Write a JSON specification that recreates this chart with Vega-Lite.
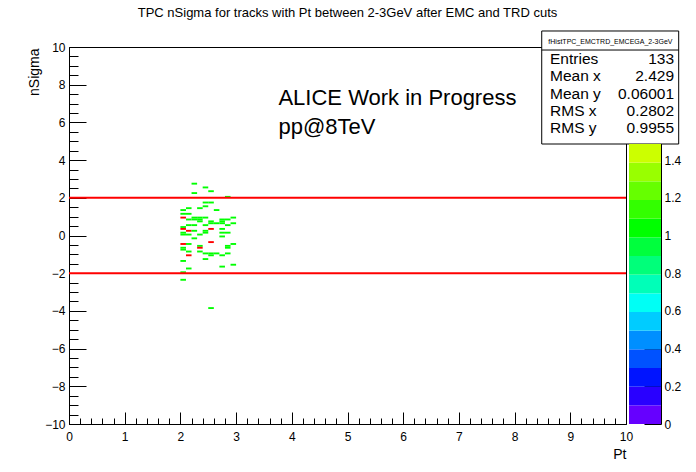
{
  "$schema": "https://vega.github.io/schema/vega-lite/v6.json",
  "width": 557,
  "height": 377,
  "autosize": {"type": "none"},
  "padding": {"left": 69, "top": 47, "right": 70, "bottom": 48},
  "background": "white",
  "title": {
    "text": "TPC nSigma for tracks with Pt between 2-3GeV after EMC and TRD cuts",
    "font": "Liberation Sans",
    "fontSize": 13,
    "fontWeight": "normal",
    "color": "black",
    "anchor": "middle",
    "frame": "group",
    "baseline": "alphabetic",
    "offset": 0
  },
  "config": {
    "font": "Liberation Sans",
    "view": {"stroke": "black", "strokeWidth": 1},
    "axis": {
      "labelFont": "Liberation Sans",
      "labelFontSize": 12,
      "labelColor": "black",
      "tickColor": "black",
      "tickWidth": 1,
      "domainColor": "black",
      "grid": false,
      "titleFont": "Liberation Sans",
      "titleColor": "black",
      "titleFontWeight": "normal",
      "titleFontSize": 14
    },
    "text": {"font": "Liberation Sans", "color": "black"}
  },
  "data": {
    "values": [
      {"pt": 2.25, "ns": 2.75, "n": 1}, {"pt": 2.45, "ns": 2.55, "n": 1}, {"pt": 2.55, "ns": 2.35, "n": 1},
      {"pt": 2.25, "ns": 2.25, "n": 1}, {"pt": 2.85, "ns": 2.05, "n": 1},
      {"pt": 2.45, "ns": 1.75, "n": 1}, {"pt": 2.55, "ns": 1.75, "n": 1}, {"pt": 2.45, "ns": 1.55, "n": 1},
      {"pt": 2.15, "ns": 1.45, "n": 1}, {"pt": 2.35, "ns": 1.45, "n": 1},
      {"pt": 2.05, "ns": 1.35, "n": 1}, {"pt": 2.65, "ns": 1.35, "n": 1},
      {"pt": 2.05, "ns": 1.15, "n": 1}, {"pt": 2.15, "ns": 1.15, "n": 1},
      {"pt": 2.05, "ns": 0.95, "n": 2}, {"pt": 2.25, "ns": 0.95, "n": 1}, {"pt": 2.35, "ns": 0.95, "n": 1},
      {"pt": 2.45, "ns": 0.95, "n": 1}, {"pt": 2.95, "ns": 0.95, "n": 1},
      {"pt": 2.15, "ns": 0.85, "n": 1}, {"pt": 2.25, "ns": 0.85, "n": 1}, {"pt": 2.35, "ns": 0.85, "n": 1},
      {"pt": 2.75, "ns": 0.85, "n": 1}, {"pt": 2.85, "ns": 0.85, "n": 1},
      {"pt": 2.35, "ns": 0.75, "n": 1}, {"pt": 2.55, "ns": 0.75, "n": 1}, {"pt": 2.75, "ns": 0.75, "n": 1},
      {"pt": 2.55, "ns": 0.65, "n": 1}, {"pt": 2.65, "ns": 0.65, "n": 1}, {"pt": 2.75, "ns": 0.65, "n": 1},
      {"pt": 2.95, "ns": 0.65, "n": 1},
      {"pt": 2.15, "ns": 0.55, "n": 1}, {"pt": 2.25, "ns": 0.55, "n": 1}, {"pt": 2.45, "ns": 0.55, "n": 1},
      {"pt": 2.85, "ns": 0.55, "n": 1},
      {"pt": 2.05, "ns": 0.45, "n": 1},
      {"pt": 2.05, "ns": 0.35, "n": 2}, {"pt": 2.55, "ns": 0.35, "n": 2}, {"pt": 2.75, "ns": 0.35, "n": 1},
      {"pt": 2.15, "ns": 0.25, "n": 2}, {"pt": 2.25, "ns": 0.25, "n": 1}, {"pt": 2.45, "ns": 0.25, "n": 1},
      {"pt": 2.05, "ns": 0.15, "n": 1}, {"pt": 2.45, "ns": 0.15, "n": 1}, {"pt": 2.75, "ns": 0.15, "n": 1},
      {"pt": 2.85, "ns": 0.15, "n": 1},
      {"pt": 2.05, "ns": 0.05, "n": 1}, {"pt": 2.15, "ns": 0.05, "n": 1}, {"pt": 2.35, "ns": 0.05, "n": 1},
      {"pt": 2.75, "ns": -0.05, "n": 1}, {"pt": 2.25, "ns": -0.15, "n": 1},
      {"pt": 2.55, "ns": -0.35, "n": 2},
      {"pt": 2.05, "ns": -0.45, "n": 2}, {"pt": 2.15, "ns": -0.45, "n": 1}, {"pt": 2.95, "ns": -0.45, "n": 1},
      {"pt": 2.35, "ns": -0.55, "n": 1}, {"pt": 2.85, "ns": -0.55, "n": 1},
      {"pt": 2.05, "ns": -0.65, "n": 1}, {"pt": 2.35, "ns": -0.65, "n": 2}, {"pt": 2.85, "ns": -0.65, "n": 1},
      {"pt": 2.05, "ns": -0.75, "n": 1},
      {"pt": 2.15, "ns": -0.85, "n": 1}, {"pt": 2.35, "ns": -0.85, "n": 1},
      {"pt": 2.45, "ns": -0.95, "n": 1}, {"pt": 2.55, "ns": -0.95, "n": 1}, {"pt": 2.65, "ns": -0.95, "n": 1},
      {"pt": 2.85, "ns": -0.95, "n": 1},
      {"pt": 2.15, "ns": -1.05, "n": 2}, {"pt": 2.55, "ns": -1.05, "n": 1}, {"pt": 2.75, "ns": -1.05, "n": 1},
      {"pt": 2.45, "ns": -1.25, "n": 1}, {"pt": 2.05, "ns": -1.35, "n": 1},
      {"pt": 2.95, "ns": -1.55, "n": 1}, {"pt": 2.75, "ns": -1.65, "n": 1}, {"pt": 2.15, "ns": -1.75, "n": 1},
      {"pt": 2.05, "ns": -1.95, "n": 1},
      {"pt": 2.05, "ns": -2.35, "n": 1}, {"pt": 2.55, "ns": -3.85, "n": 1}
    ]
  },
  "layer": [
    {
      "layer": [
        {
          "transform": [
            {"bin": {"extent": [0, 10], "step": 0.1}, "field": "pt", "as": ["pt0", "pt1"]},
            {"bin": {"extent": [-10, 10], "step": 0.1}, "field": "ns", "as": ["ns0", "ns1"]}
          ],
          "mark": {"type": "rect", "strokeWidth": 0},
          "encoding": {
            "x": {
              "field": "pt0", "type": "quantitative",
              "scale": {"domain": [0, 10], "nice": false, "zero": false},
              "axis": {
                "orient": "bottom",
                "values": [0, 1, 2, 3, 4, 5, 6, 7, 8, 9, 10],
                "format": "~r",
                "tickSize": -12,
                "labelPadding": 19,
                "labelFlush": false,
                "labelOverlap": false,
                "title": "Pt",
                "titleAnchor": "end",
                "titleAlign": "right",
                "titleBaseline": "alphabetic",
                "titleX": 557,
                "titleY": 34
              }
            },
            "x2": {"field": "pt1"},
            "y": {
              "field": "ns0", "type": "quantitative",
              "scale": {"domain": [-10, 10], "nice": false, "zero": false},
              "axis": {
                "orient": "left",
                "values": [-10, -8, -6, -4, -2, 0, 2, 4, 6, 8, 10],
                "format": "~r",
                "tickSize": -17,
                "labelPadding": 21,
                "labelFlush": false,
                "labelOverlap": false,
                "title": "nSigma",
                "titleAngle": 270,
                "titleAnchor": "end",
                "titleAlign": "right",
                "titleBaseline": "alphabetic",
                "titleX": -31,
                "titleY": 1
              }
            },
            "y2": {"field": "ns1"},
            "fill": {
              "field": "n", "type": "quantitative",
              "scale": {
                "type": "quantize", "domain": [0, 2], "nice": false,
                "range": ["#6600ff", "#2900ff", "#0014ff", "#0052ff", "#008fff", "#00ccff", "#00fff5", "#00ffb8", "#00ff7a", "#00ff3d",
                          "#00ff00", "#33ff00", "#66ff00", "#99ff00", "#ccff00", "#ffcc00", "#ff8f00", "#ff5200", "#ff1400", "#ff0000"]
              },
              "legend": null
            },
            "stroke": {
              "field": "n", "type": "quantitative",
              "scale": {
                "type": "quantize", "domain": [0, 1.5], "nice": false,
                "range": ["#6600ff", "#2900ff", "#0014ff", "#0052ff", "#008fff", "#00ccff", "#00fff5", "#00ffb8", "#00ff7a", "#00ff3d",
                          "#00ff00", "#33ff00", "#66ff00", "#99ff00", "#ccff00"]
              },
              "legend": {
                "type": "gradient",
                "orient": "none",
                "legendX": 560,
                "legendY": 97,
                "direction": "vertical",
                "gradientLength": 280,
                "gradientThickness": 32,
                "gradientStrokeWidth": 0,
                "labelExpr": "''",
                "labelOpacity": 0,
                "title": null,
                "padding": 0
              }
            }
          }
        },
        {
          "mark": {"type": "point", "opacity": 0},
          "encoding": {
            "x": {
              "field": "pt", "type": "quantitative",
              "scale": {"domain": [0, 10], "nice": false, "zero": false},
              "axis": {
                "orient": "bottom",
                "values": [0.2, 0.4, 0.6, 0.8, 1.2, 1.4, 1.6, 1.8, 2.2, 2.4, 2.6, 2.8, 3.2, 3.4, 3.6, 3.8, 4.2, 4.4, 4.6, 4.8,
                           5.2, 5.4, 5.6, 5.8, 6.2, 6.4, 6.6, 6.8, 7.2, 7.4, 7.6, 7.8, 8.2, 8.4, 8.6, 8.8, 9.2, 9.4, 9.6, 9.8],
                "tickSize": -6,
                "labels": false,
                "domain": false,
                "title": null
              }
            },
            "y": {
              "field": "ns", "type": "quantitative",
              "scale": {"domain": [-10, 10], "nice": false, "zero": false},
              "axis": {
                "orient": "left",
                "values": [-9.5, -9, -8.5, -7.5, -7, -6.5, -5.5, -5, -4.5, -3.5, -3, -2.5, -1.5, -1, -0.5,
                           0.5, 1, 1.5, 2.5, 3, 3.5, 4.5, 5, 5.5, 6.5, 7, 7.5, 8.5, 9, 9.5],
                "tickSize": -9,
                "labels": false,
                "domain": false,
                "title": null
              }
            }
          }
        },
        {
          "data": {"values": [{"lim": 2}, {"lim": -2}]},
          "mark": {"type": "rule", "color": "#ff0000", "strokeWidth": 2},
          "encoding": {
            "y": {"field": "lim", "type": "quantitative", "axis": null}
          }
        },
        {
          "data": {"values": [{"line": "ALICE Work in Progress\npp@8TeV"}]},
          "mark": {"type": "text", "align": "left", "baseline": "alphabetic", "fontSize": 22, "lineBreak": "\n", "lineHeight": 28.5},
          "encoding": {
            "x": {"datum": 3.76, "type": "quantitative", "axis": null},
            "y": {"datum": 6.92, "type": "quantitative", "axis": null},
            "text": {"field": "line"}
          }
        },
        {
          "data": {"values": [{"box": "fHistTPC_EMCTRD_EMCEGA_2-3GeV"}]},
          "mark": {"type": "rect", "fill": "white", "stroke": "black", "strokeWidth": 1},
          "encoding": {
            "x": {"datum": 8.487, "type": "quantitative", "axis": null},
            "x2": {"datum": 10.946},
            "y": {"datum": 10.849, "type": "quantitative", "axis": null},
            "y2": {"datum": 4.854}
          }
        },
        {
          "data": {"values": [{"box": "fHistTPC_EMCTRD_EMCEGA_2-3GeV"}]},
          "mark": {"type": "rule", "color": "black", "strokeWidth": 1},
          "encoding": {
            "x": {"datum": 8.487, "type": "quantitative", "axis": null},
            "x2": {"datum": 10.946},
            "y": {"datum": 9.84, "type": "quantitative", "axis": null}
          }
        },
        {
          "data": {"values": [{"box": "fHistTPC_EMCTRD_EMCEGA_2-3GeV"}]},
          "mark": {"type": "text", "align": "center", "baseline": "alphabetic", "fontSize": 7},
          "encoding": {
            "x": {"datum": 9.72, "type": "quantitative", "axis": null},
            "y": {"datum": 10.16, "type": "quantitative", "axis": null},
            "text": {"field": "box"}
          }
        },
        {
          "data": {"values": [{"names": "Entries\nMean x\nMean y\nRMS x\nRMS y", "vals": "133\n2.429\n0.06001\n0.2802\n0.9955"}]},
          "layer": [
            {
              "mark": {"type": "text", "align": "left", "baseline": "alphabetic", "fontSize": 15.5, "lineBreak": "\n", "lineHeight": 17.4},
              "encoding": {
                "x": {"datum": 8.636, "type": "quantitative", "axis": null},
                "y": {"datum": 9.11, "type": "quantitative", "axis": null},
                "text": {"field": "names"}
              }
            },
            {
              "mark": {"type": "text", "align": "right", "baseline": "alphabetic", "fontSize": 15.5, "lineBreak": "\n", "lineHeight": 17.4},
              "encoding": {
                "x": {"datum": 10.862, "type": "quantitative", "axis": null},
                "y": {"datum": 9.11, "type": "quantitative", "axis": null},
                "text": {"field": "vals"}
              }
            }
          ]
        }
      ],
      "resolve": {"axis": {"x": "independent", "y": "independent"}}
    },
    {
      "mark": {"type": "point", "opacity": 0},
      "encoding": {
        "y": {
          "field": "n", "type": "quantitative",
          "scale": {"domain": [0, 2], "nice": false, "zero": false},
          "axis": {
            "orient": "right",
            "offset": 35,
            "values": [0, 0.2, 0.4, 0.6, 0.8, 1, 1.2, 1.4],
            "format": "~r",
            "tickSize": -17,
            "labelPadding": 20,
            "labelFlush": false,
            "labelOverlap": false,
            "domain": true,
            "title": null
          }
        }
      }
    }
  ],
  "resolve": {"scale": {"y": "independent"}, "axis": {"y": "independent"}}
}
